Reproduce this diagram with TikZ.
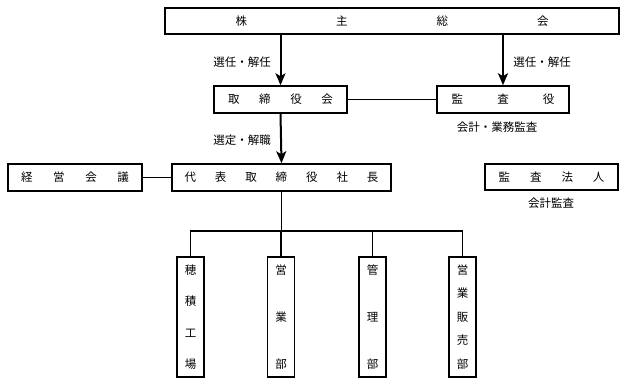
\documentclass[tikz,border=0pt]{standalone}
\usepackage{fontspec}
\setmainfont{Noto Sans CJK JP}
\usetikzlibrary{arrows.meta}
\tikzset{
  box/.style={draw, line width=1.5pt, inner sep=0pt, font=\fontsize{11.5}{13}\selectfont},
  vbox/.style={box, minimum width=27pt, minimum height=120pt},
  lbl/.style={inner sep=0pt, font=\fontsize{11.5}{13}\selectfont},
  arr/.style={line width=2pt, -{Stealth[length=12pt,width=10pt,inset=3pt]}},
  conn/.style={line width=1.7pt}
}
\begin{document}
\begin{tikzpicture}[x=1pt,y=-1pt]
\useasboundingbox (0,0) rectangle (627,386);
% top-level boxes
\node[box, minimum width=454pt, minimum height=26pt] (kabu) at (392,21) {\makebox[313pt]{株\hfill 主\hfill 総\hfill 会}};
\node[box, minimum width=133pt, minimum height=27pt] (tori) at (280.5,99.5) {\makebox[105pt]{取\hfill 締\hfill 役\hfill 会}};
\node[box, minimum width=132pt, minimum height=27pt] (kansa) at (503,99.5) {\makebox[103pt]{監\hfill 査\hfill 役}};
\node[box, minimum width=134pt, minimum height=27pt] (keiei) at (75,177.5) {\makebox[108pt]{経\hfill 営\hfill 会\hfill 議}};
\node[box, minimum width=219pt, minimum height=27pt] (daihyo) at (281.5,177.5) {\makebox[194pt]{代\hfill 表\hfill 取\hfill 締\hfill 役\hfill 社\hfill 長}};
\node[box, minimum width=133pt, minimum height=26pt] (hojin) at (551.5,177) {\makebox[106pt]{監\hfill 査\hfill 法\hfill 人}};
% departments
\node[vbox] (hozumi) at (190.5,317) {\parbox[c][105pt]{13pt}{\centering 穂\par\vfill 積\par\vfill 工\par\vfill 場}};
\node[vbox] (eigyo) at (281,317) {\parbox[c][105pt]{13pt}{\centering 営\par\vfill 業\par\vfill 部}};
\node[vbox] (kanri) at (372.5,317) {\parbox[c][105pt]{13pt}{\centering 管\par\vfill 理\par\vfill 部}};
\node[vbox] (hanbai) at (462.5,317) {\parbox[c][105pt]{13pt}{\centering 営\par\vfill 業\par\vfill 販\par\vfill 売\par\vfill 部}};
% labels
\node[lbl] (l1) at (242,62) {選任・解任};
\node[lbl] (l2) at (542,62) {選任・解任};
\node[lbl] (l3) at (497,127) {会計・業務監査};
\node[lbl] (l4) at (242,140) {選定・解職};
\node[lbl] (l5) at (551,203) {会計監査};
% arrows
\draw[arr] (kabu.south -| tori.north) -- (tori.north);
\draw[arr] (kabu.south -| kansa.north) -- (kansa.north);
\draw[arr] (tori.south) -- (daihyo.north);
% connectors
\draw[conn] (tori.east) -- (kansa.west);
\draw[conn] (keiei.east) -- (daihyo.west);
\coordinate (bus) at (281,231);
\draw[conn] (daihyo.south) -- (daihyo.south |- bus);
\draw[conn] (hozumi.north) |- (bus) -| (hanbai.north);
\draw[conn] (eigyo.north) -- (eigyo.north |- bus);
\draw[conn] (kanri.north) -- (kanri.north |- bus);
\end{tikzpicture}
\end{document}
